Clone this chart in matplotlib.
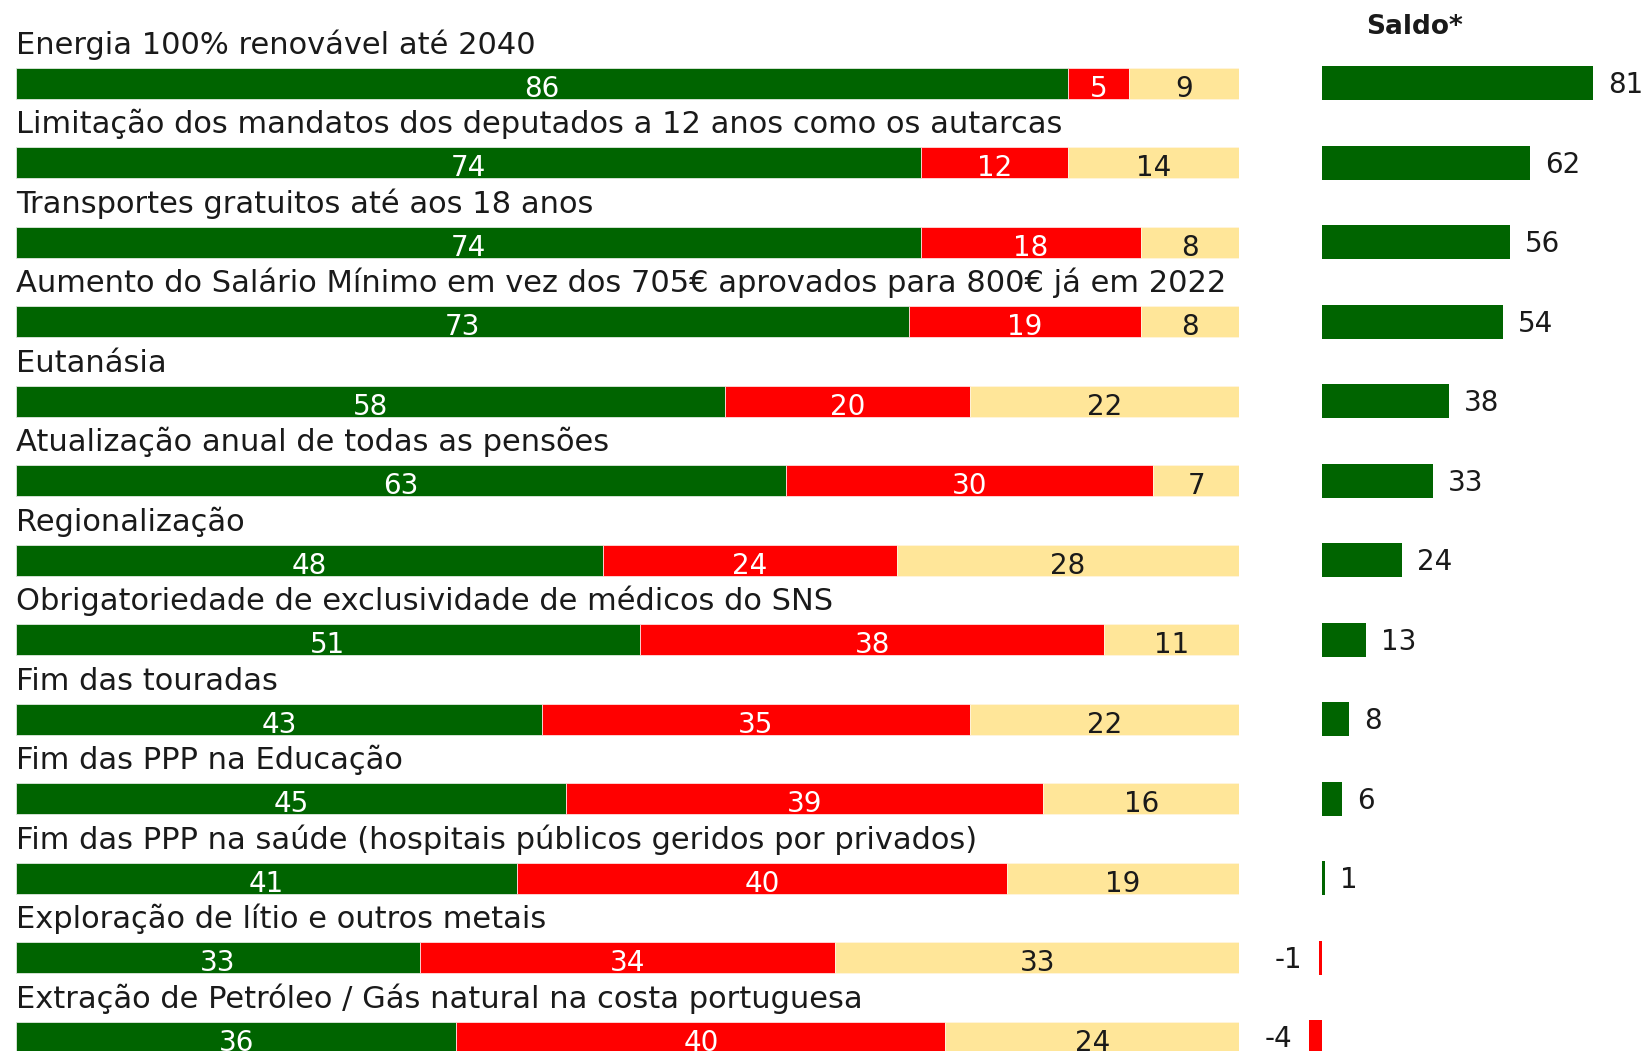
import matplotlib.pyplot as plt

# Dados do inquérito (%)
temas = [
    "Energia 100% renovável até 2040",
    "Limitação dos mandatos dos deputados a 12 anos como os autarcas",
    "Transportes gratuitos até aos 18 anos",
    "Aumento do Salário Mínimo em vez dos 705€ aprovados para 800€ já em 2022",
    "Eutanásia",
    "Atualização anual de todas as pensões",
    "Regionalização",
    "Obrigatoriedade de exclusividade de médicos do SNS",
    "Fim das touradas",
    "Fim das PPP na Educação",
    "Fim das PPP na saúde (hospitais públicos geridos por privados)",
    "Exploração de lítio e outros metais",
    "Extração de Petróleo / Gás natural na costa portuguesa",
]
a_favor = [86, 74, 74, 73, 58, 63, 48, 51, 43, 45, 41, 33, 36]
contra = [5, 12, 18, 19, 20, 30, 24, 38, 35, 39, 40, 34, 40]
ns_nr = [9, 14, 8, 8, 22, 7, 28, 11, 22, 16, 19, 33, 24]
saldo = [81, 62, 56, 54, 38, 33, 24, 13, 8, 6, 1, -1, -4]

VERDE = '#006400'
VERMELHO = '#FF0000'
AMARELO = '#FFE699'

W, H = 1642, 1051
fig = plt.figure(figsize=(W / 100, H / 100), dpi=100)
fig.patch.set_facecolor('white')

# geometria em píxeis
pitch = 79.5
y0 = 83.0  # centro da primeira barra
ylim = ((H - y0) / pitch, -y0 / pitch)

# --- painel principal (barras empilhadas)
x_left, x_right = 16, 1239
ax = fig.add_axes([x_left / W, 0, (x_right - x_left) / W, 1])
ax.set_xlim(0, 100)
ax.set_ylim(*ylim)
ax.axis('off')

rows = range(len(temas))
h = 31 / pitch
ax.barh(rows, a_favor, height=h, color=VERDE, edgecolor='#dfe9df', linewidth=0.6)
ax.barh(rows, contra, left=a_favor, height=h, color=VERMELHO, edgecolor='#ffdddd', linewidth=0.6)
left3 = [a + c for a, c in zip(a_favor, contra)]
ax.barh(rows, ns_nr, left=left3, height=h, color=AMARELO, edgecolor='#fff5dd', linewidth=0.6)

for i in rows:
    ax.text(0, i - 0.37, temas[i], fontsize=22, color='#1a1a1a', va='baseline', ha='left')
    ax.text(a_favor[i] / 2, i + 0.07, str(a_favor[i]), fontsize=20, color='white',
            ha='center', va='center')
    ax.text(a_favor[i] + contra[i] / 2, i + 0.07, str(contra[i]), fontsize=20, color='white',
            ha='center', va='center')
    ax.text(left3[i] + ns_nr[i] / 2, i + 0.07, str(ns_nr[i]), fontsize=20, color='#1a1a1a',
            ha='center', va='center')

# --- painel do saldo
zero_px, px_per_unit = 1322, 3.35
sx0, sx1 = 1250, W
ax2 = fig.add_axes([sx0 / W, 0, (sx1 - sx0) / W, 1])
ax2.set_xlim((sx0 - zero_px) / px_per_unit, (sx1 - zero_px) / px_per_unit)
ax2.set_ylim(*ylim)
ax2.axis('off')

cores_saldo = [VERDE if s >= 0 else VERMELHO for s in saldo]
ax2.barh(rows, saldo, height=34 / pitch, color=cores_saldo, edgecolor='none')
for i in rows:
    s = saldo[i]
    if s >= 0:
        ax2.text(s + 4.5, i + 0.03, str(s), fontsize=20, color='#1a1a1a', ha='left', va='center')
    else:
        ax2.text(s - 5.0, i + 0.03, str(s), fontsize=20, color='#1a1a1a', ha='right', va='center')

ax2.text((1414 - zero_px) / px_per_unit, -0.62, "Saldo*", fontsize=19, fontweight='bold',
         color='#1a1a1a', ha='center', va='baseline')

plt.savefig('out.png', dpi=100, facecolor='white')
plt.close()
